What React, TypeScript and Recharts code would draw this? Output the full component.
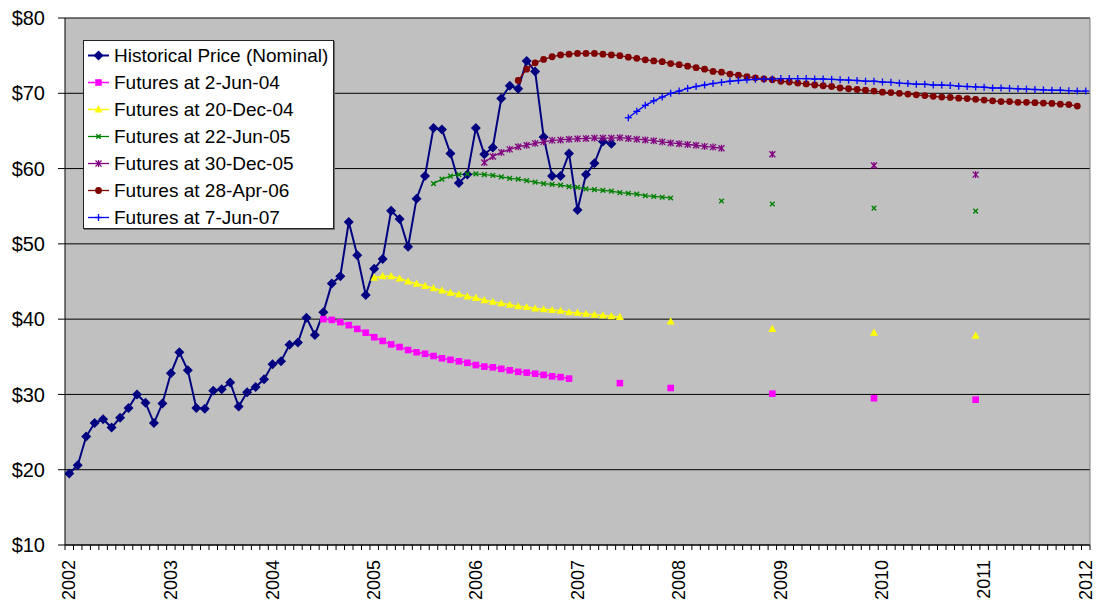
import React from "react";
import {
  LineChart,
  Line,
  XAxis,
  YAxis,
  CartesianGrid,
  ReferenceLine,
} from "recharts";

// month index 0 = Jan 2002, 120 = Jan 2012
const YEARS = [2002, 2003, 2004, 2005, 2006, 2007, 2008, 2009, 2010, 2011, 2012];
const Y_TICKS = [10, 20, 30, 40, 50, 60, 70, 80];

const historicalStart = 0;
const historical = [
  19.5, 20.6, 24.4, 26.2, 26.7, 25.6, 26.9, 28.2, 30.0, 28.9, 26.2, 28.8,
  32.8, 35.6, 33.2, 28.2, 28.1, 30.5, 30.7, 31.6, 28.4, 30.3, 31.0, 32.0,
  34.0, 34.4, 36.6, 36.9, 40.2, 37.9, 40.9, 44.75, 45.7, 52.9, 48.5, 43.2,
  46.7, 48.0, 54.4, 53.3, 49.6, 56.0, 59.0, 65.4, 65.2, 62.0, 58.1, 59.2,
  65.4, 61.9, 62.8, 69.3, 71.0, 70.6, 74.3, 72.9, 64.2, 59.0, 59.0, 62.0,
  54.5, 59.2, 60.7, 63.6, 63.3,
];

const jun04Start = 30;
const jun04 = [
  40.0, 39.9, 39.6, 39.2, 38.7, 38.2, 37.6, 37.1, 36.65, 36.3,
  35.9, 35.6, 35.4, 35.1, 34.8, 34.6, 34.4, 34.2, 33.9, 33.7,
  33.6, 33.4, 33.2, 33.0, 32.9, 32.75, 32.6, 32.4, 32.3, 32.1,
];
const jun04LaterMonths = [65, 71, 83, 95, 107];
const jun04Later = [31.5, 30.85, 30.1, 29.5, 29.3];

const dec04Start = 36;
const dec04 = [
  45.5, 45.7, 45.7, 45.4, 45.0, 44.7, 44.4, 44.1, 43.8, 43.5,
  43.3, 43.0, 42.8, 42.5, 42.3, 42.1, 41.9, 41.7, 41.6, 41.4,
  41.3, 41.2, 41.1, 40.9, 40.85, 40.7, 40.6, 40.5, 40.4, 40.3,
];
const dec04LaterMonths = [71, 83, 95, 107];
const dec04Later = [39.7, 38.7, 38.2, 37.8];

const jun05Start = 43;
const jun05 = [
  58.0, 58.6, 59.0, 59.2, 59.3, 59.3, 59.2, 59.1, 58.9, 58.7,
  58.6, 58.4, 58.2, 58.0, 57.9, 57.8, 57.6, 57.5, 57.3, 57.2,
  57.1, 57.0, 56.8, 56.7, 56.6, 56.4, 56.3, 56.2, 56.1,
];
const jun05LaterMonths = [77, 83, 95, 107];
const jun05Later = [55.7, 55.3, 54.75, 54.35];

const dec05Start = 49;
const dec05 = [
  60.8, 61.6, 62.15, 62.55, 62.9, 63.1, 63.35, 63.55, 63.75, 63.8,
  63.9, 63.95, 64.0, 64.05, 64.05, 64.05, 64.1, 64.0, 63.9, 63.8,
  63.7, 63.55, 63.4, 63.3, 63.2, 63.1, 62.95, 62.85, 62.7,
];
const dec05LaterMonths = [83, 95, 107];
const dec05Later = [61.9, 60.4, 59.2];

const apr06Start = 53;
const apr06 = [
  71.7, 73.2, 74.05, 74.5, 74.85, 75.1, 75.2, 75.3, 75.3,
  75.3, 75.2, 75.1, 75.0, 74.8, 74.65, 74.45, 74.3, 74.2, 73.95,
  73.8, 73.6, 73.4, 73.2, 72.9, 72.8, 72.55, 72.4, 72.2, 72.05,
  71.9, 71.8, 71.6, 71.5, 71.35, 71.25, 71.1, 71.0, 70.9, 70.7,
  70.6, 70.5, 70.4, 70.3, 70.15, 70.1, 70.0, 69.9, 69.8, 69.7,
  69.6, 69.5, 69.45, 69.35, 69.3, 69.2, 69.1, 69.0, 68.9, 68.9,
  68.8, 68.8, 68.75, 68.7, 68.65, 68.55, 68.5, 68.3,
];

const jun07Start = 66;
const jun07 = [
  66.75, 67.6, 68.4, 69.0, 69.5, 70.0, 70.3, 70.65, 70.9, 71.1,
  71.3, 71.45, 71.6, 71.7, 71.8, 71.85, 71.9, 71.9, 71.95, 71.95,
  71.95, 71.95, 71.9, 71.9, 71.85, 71.8, 71.75, 71.7, 71.6, 71.6,
  71.5, 71.45, 71.35, 71.3, 71.2, 71.2, 71.1, 71.1, 71.05, 70.95,
  70.9, 70.85, 70.8, 70.7, 70.7, 70.65, 70.6, 70.55, 70.5, 70.45,
  70.4, 70.4, 70.35, 70.3, 70.3,
];

const MONTHS = 121;

type Row = { m: number; [k: string]: number | null };

const data: Row[] = Array.from({ length: MONTHS }, (_, i) => ({ m: i + 0.5 }));

function put(key: string, start: number, values: number[]) {
  values.forEach((v, j) => {
    data[start + j][key] = v;
  });
}
function putAt(key: string, months: number[], values: number[]) {
  months.forEach((mi, j) => {
    data[mi][key] = values[j];
  });
}

put("hist", historicalStart, historical);
put("jun04", jun04Start, jun04);
putAt("jun04", jun04LaterMonths, jun04Later);
put("dec04", dec04Start, dec04);
putAt("dec04", dec04LaterMonths, dec04Later);
put("jun05", jun05Start, jun05);
putAt("jun05", jun05LaterMonths, jun05Later);
put("dec05", dec05Start, dec05);
putAt("dec05", dec05LaterMonths, dec05Later);
put("apr06", apr06Start, apr06);
put("jun07", jun07Start, jun07);

const SERIES = [
  { key: "hist", name: "Historical Price (Nominal)", color: "#000080", shape: "diamond", width: 2 },
  { key: "jun04", name: "Futures at 2-Jun-04", color: "#FF00FF", shape: "square", width: 1.5 },
  { key: "dec04", name: "Futures at 20-Dec-04", color: "#FFFF00", shape: "triangle", width: 1.5 },
  { key: "jun05", name: "Futures at 22-Jun-05", color: "#008000", shape: "x", width: 1.3 },
  { key: "dec05", name: "Futures at 30-Dec-05", color: "#800080", shape: "star", width: 1.3 },
  { key: "apr06", name: "Futures at 28-Apr-06", color: "#800000", shape: "circle", width: 1.3 },
  { key: "jun07", name: "Futures at 7-Jun-07", color: "#0000FF", shape: "plus", width: 1.3 },
];

const FONT = "'Liberation Sans', Arial, sans-serif";

function Marker({ shape, color, cx, cy }: { shape: string; color: string; cx: number; cy: number }) {
  switch (shape) {
    case "diamond":
      return (
        <polygon
          points={`${cx},${cy - 5} ${cx + 5},${cy} ${cx},${cy + 5} ${cx - 5},${cy}`}
          fill={color}
        />
      );
    case "square":
      return <rect x={cx - 3.3} y={cy - 3.3} width={6.6} height={6.6} fill={color} />;
    case "triangle":
      return (
        <polygon
          points={`${cx},${cy - 4.2} ${cx + 4},${cy + 3} ${cx - 4},${cy + 3}`}
          fill={color}
        />
      );
    case "x":
      return (
        <g stroke={color} strokeWidth={1.4}>
          <line x1={cx - 2.3} y1={cy - 2.3} x2={cx + 2.3} y2={cy + 2.3} />
          <line x1={cx - 2.3} y1={cy + 2.3} x2={cx + 2.3} y2={cy - 2.3} />
        </g>
      );
    case "star":
      return (
        <g stroke={color} strokeWidth={1.3}>
          <line x1={cx - 3} y1={cy - 3} x2={cx + 3} y2={cy + 3} />
          <line x1={cx - 3} y1={cy + 3} x2={cx + 3} y2={cy - 3} />
          <line x1={cx} y1={cy - 3.5} x2={cx} y2={cy + 3.5} />
        </g>
      );
    case "circle":
      return <circle cx={cx} cy={cy} r={3.4} fill={color} />;
    case "plus":
      return (
        <g stroke={color} strokeWidth={1.3}>
          <line x1={cx - 3.5} y1={cy} x2={cx + 3.5} y2={cy} />
          <line x1={cx} y1={cy - 3.5} x2={cx} y2={cy + 3.5} />
        </g>
      );
    default:
      return null;
  }
}

function makeDot(shape: string, color: string, key: string) {
  return (props: any) => {
    const { cx, cy, index, value } = props;
    if (value == null || cx == null || cy == null || Number.isNaN(cy)) {
      return <g key={`${key}-${index}`} />;
    }
    return (
      <g key={`${key}-${index}`}>
        <Marker shape={shape} color={color} cx={cx} cy={cy} />
      </g>
    );
  };
}

// month boundaries get a minor tick; mid-January of each year gets the year label
const X_TICKS = [
  ...Array.from({ length: MONTHS + 1 }, (_, i) => i),
  ...YEARS.map((_, i) => i * 12 + 0.5),
];

function XTick(props: any) {
  const { x, y, payload } = props;
  const v = payload.value as number;
  if (Number.isInteger(v)) {
    return <line x1={x} y1={y} x2={x} y2={y + 5} stroke="#000" strokeWidth={1} />;
  }
  const label = YEARS[Math.round((v - 0.5) / 12)];
  const ty = y + 15;
  return (
    <text
      x={x}
      y={ty}
      transform={`rotate(-90 ${x} ${ty})`}
      textAnchor="end"
      dominantBaseline="central"
      fontSize={18}
      fontFamily={FONT}
      fill="#000"
    >
      {label}
    </text>
  );
}

function LegendBox() {
  return (
    <div
      style={{
        position: "absolute",
        left: 83,
        top: 40,
        width: 251,
        height: 189,
        boxSizing: "border-box",
        background: "#fff",
        border: "1px solid #222",
        boxShadow: "1px 1px 0 #707070",
        paddingTop: 1,
        fontFamily: FONT,
        fontSize: 19,
        color: "#000",
      }}
    >
      {SERIES.map((s) => (
        <div
          key={s.key}
          style={{ height: 27, display: "flex", alignItems: "center", whiteSpace: "nowrap" }}
        >
          <svg width={30} height={27} style={{ flex: "none" }}>
            <line x1={4} y1={13.5} x2={25} y2={13.5} stroke={s.color} strokeWidth={s.width} />
            <Marker shape={s.shape} color={s.color} cx={14.5} cy={13.5} />
          </svg>
          <span>{s.name}</span>
        </div>
      ))}
    </div>
  );
}

export default function App() {
  return (
    <div
      style={{
        position: "absolute",
        left: 0,
        top: 0,
        width: 1096,
        height: 603,
        background: "#fff",
      }}
    >
      <LineChart
        width={1096}
        height={603}
        data={data}
        margin={{ top: 18, right: 6, left: 0, bottom: 0 }}
      >
        <CartesianGrid
          vertical={false}
          fill="#C0C0C0"
          stroke="#000"
          strokeOpacity={1}
          horizontalFill={["#C0C0C0"]}
        />
        <XAxis
          dataKey="m"
          type="number"
          domain={[0, MONTHS]}
          ticks={X_TICKS}
          interval={0}
          tickLine={false}
          tickSize={0}
          tickMargin={0}
          tick={<XTick />}
          axisLine={{ stroke: "#000" }}
          height={58}
          allowDataOverflow
        />
        <YAxis
          type="number"
          domain={[10, 80]}
          ticks={Y_TICKS}
          interval={0}
          width={65}
          tickSize={7}
          tickMargin={13}
          tickLine={{ stroke: "#000" }}
          axisLine={{ stroke: "#000" }}
          tickFormatter={(v: number) => `$${v}`}
          tick={{ fontSize: 20, fontFamily: FONT, fill: "#000" }}
        />
        <ReferenceLine x={MONTHS} stroke="#808080" />
        {SERIES.map((s) => (
          <Line
            key={s.key}
            type="linear"
            dataKey={s.key}
            name={s.name}
            stroke={s.color}
            strokeWidth={s.width}
            dot={makeDot(s.shape, s.color, s.key)}
            activeDot={false}
            connectNulls={false}
            isAnimationActive={false}
          />
        ))}
      </LineChart>
      <LegendBox />
    </div>
  );
}
